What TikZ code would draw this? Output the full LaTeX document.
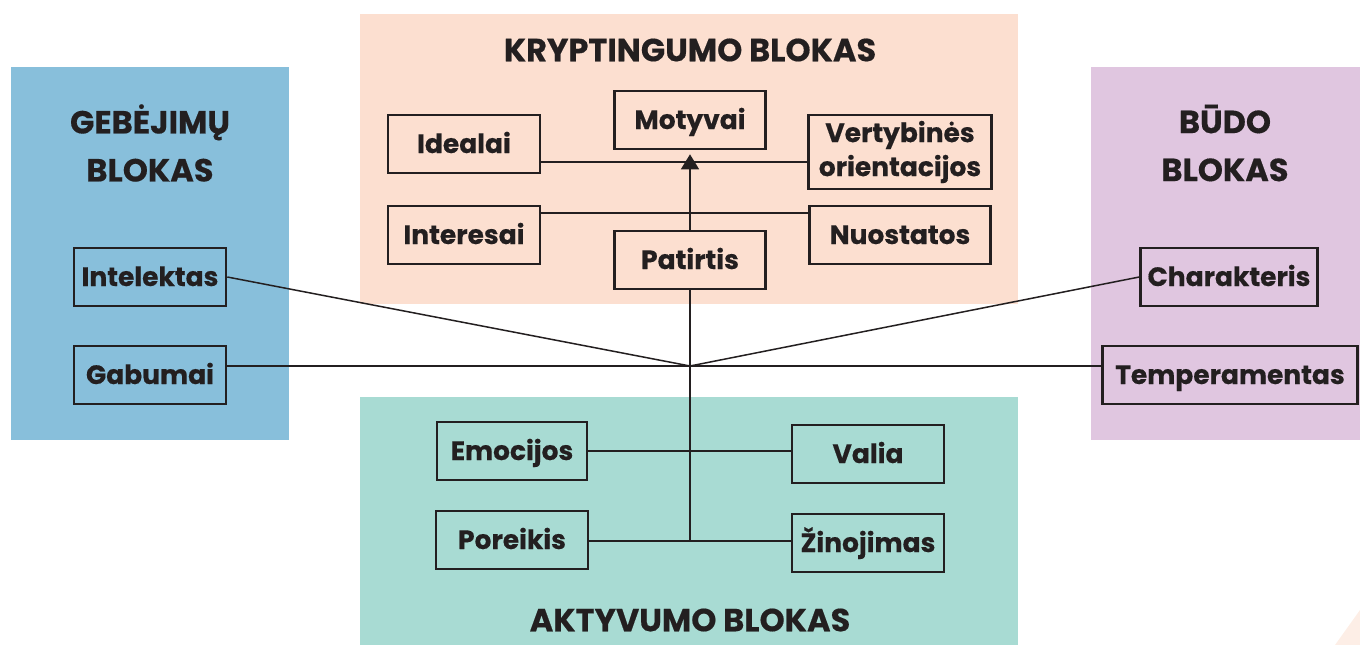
\documentclass[tikz,border=0pt]{standalone}
\usepackage{fontspec}
\setmainfont{Poppins}[BoldFeatures={FakeBold=0.4}]
\usetikzlibrary{arrows.meta}
\definecolor{peach}{HTML}{FCDFD0}
\definecolor{skyb}{HTML}{88BFDB}
\definecolor{lilac}{HTML}{E0C6E0}
\definecolor{mint}{HTML}{A8DBD3}
\definecolor{ink}{HTML}{231F20}
\definecolor{corner}{HTML}{FDEEE6}
\tikzset{
  box/.style={draw=ink, line width=2.6pt, minimum height=58, inner sep=0pt,
    text height=18pt, text depth=0pt,
    text=ink, font=\fontsize{26.5}{34}\selectfont\bfseries},
  title/.style={text=ink, align=center, font=\fontsize{32}{48}\selectfont\bfseries},
  conn/.style={draw=ink, line width=1.5pt},
}
\begin{document}
\begin{tikzpicture}[x=1pt,y=-1pt]
\useasboundingbox (0,0) rectangle (1360,645);
% backgrounds
\fill[peach] (360,14) rectangle (1018,304);
\fill[skyb] (11,67) rectangle (289,440);
\fill[lilac] (1091,67) rectangle (1360,440);
\fill[mint] (360,397) rectangle (1018,645);
\fill[corner] (1335,645) -- (1360,610) -- (1360,645) -- cycle;
% titles
\node[title] (tK) at (690,50) {KRYPTINGUMO BLOKAS};
\node[title] (tA) at (690,620) {AKTYVUMO BLOKAS};
\node[title] (tG) at (150,143) {GEBĖJIMŲ\\BLOKAS};
\node[title] (tB) at (1225,143) {BŪDO\\BLOKAS};
% boxes
\node[box, minimum width=152] (ideal) at (464,144) {Idealai};
\node[box, minimum width=151] (motyv) at (690,120) {Motyvai};
\node[box, minimum width=183, minimum height=74, align=center, text height=, text depth=] (vert) at (900,152) {Vertybinės\\orientacijos};
\node[box, minimum width=152] (inter) at (464,235) {Interesai};
\node[box, minimum width=181] (nuost) at (900,235) {Nuostatos};
\node[box, minimum width=151] (patir) at (690,260) {Patirtis};
\node[box, minimum width=152] (intel) at (150,277) {Intelektas};
\node[box, minimum width=152] (gabum) at (150,375) {Gabumai};
\node[box, minimum width=177] (chara) at (1229,277) {Charakteris};
\node[box, minimum width=255] (tempe) at (1230,375) {Temperamentas};
\node[box, minimum width=150] (emoc) at (512,451) {Emocijos};
\node[box, minimum width=152] (valia) at (868,454) {Valia};
\node[box, minimum width=152] (poreik) at (512,540) {Poreikis};
\node[box, minimum width=152] (zinoj) at (868,543) {Žinojimas};
% helper coordinates
\coordinate (J) at (690,366);
\coordinate (L1) at (690,162);
\coordinate (L2) at (690,213);
\coordinate (B1) at (690,451);
\coordinate (B2) at (690,541);
% connectors
\draw[conn] (ideal.east |- L1) -- (vert.west |- L1);
\draw[conn] (inter.east |- L2) -- (nuost.west |- L2);
\draw[conn, -{Triangle[width=18pt,length=15pt]}, shorten >=4pt] (patir.north) -- (motyv.south);
\draw[conn] (patir.south) -- (B2);
\draw[conn] (intel.east) -- (J);
\draw[conn] (chara.west) -- (J);
\draw[conn] (gabum.east |- J) -- (tempe.west |- J);
\draw[conn] (emoc.east |- B1) -- (valia.west |- B1);
\draw[conn] (poreik.east |- B2) -- (zinoj.west |- B2);
\end{tikzpicture}
\end{document}
